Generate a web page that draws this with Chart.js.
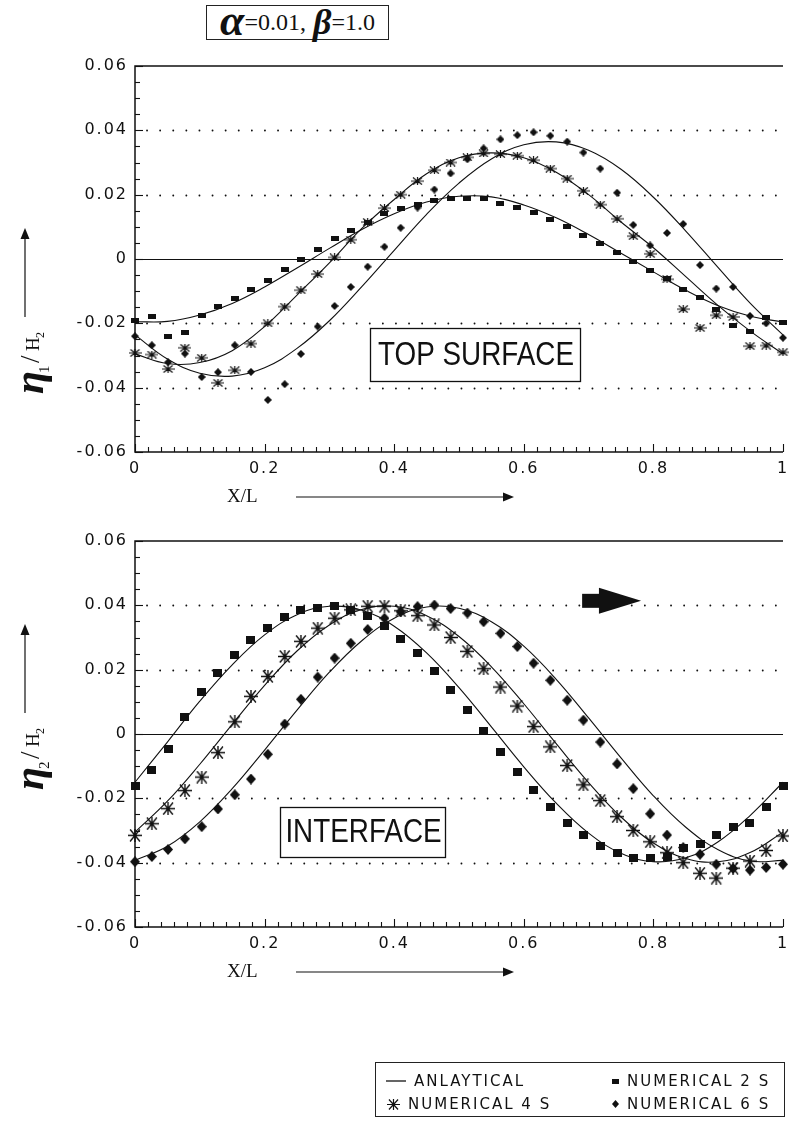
<!DOCTYPE html>
<html>
<head>
<meta charset="utf-8">
<script src="https://cdn.jsdelivr.net/npm/chart.js@4.4.0/dist/chart.umd.min.js"></script>
<style>
  body { margin: 0; background: #fff; width: 789px; height: 1128px; overflow: hidden; position: relative; }
  canvas.plot { position: absolute; left: 0; }
  #top { top: 0; }
  #bot { top: 520px; }
  #title { position: absolute; left: 206px; top: 5px; width: 183px; height: 35px; border: 1.5px solid #222;
    box-sizing: border-box; font-family: "Liberation Serif"; font-size: 24px; color: #111;
    display: flex; align-items: center; justify-content: center; white-space: nowrap; }
  #title .a { font-weight: bold; font-style: italic; font-size: 44px; line-height: 30px; margin-top: -4px; }
  #title .b { font-weight: bold; font-style: italic; font-size: 36px; line-height: 30px; margin-top: -2px; margin-left: 7px; }
  #legend { position: absolute; left: 375px; top: 1062px; width: 410px; height: 55px; border: 1.5px solid #222;
    box-sizing: border-box; font: 15px "DejaVu Sans"; letter-spacing: 2px; color: #111; }
  #legend .it { position: absolute; display: flex; align-items: center; white-space: nowrap; }
  #legend .it canvas { margin-right: 8px; }
</style>
</head>
<body>
<div id="title"><span class="a">α</span>=0.01,<span class="b">β</span>=1.0</div>
<canvas id="top" class="plot" width="789" height="520"></canvas>
<canvas id="bot" class="plot" width="789" height="500"></canvas>
<div id="legend"></div>
<script>
// grid of the numerical solution (40 stations along X/L)
var xNum = [0, 0.026, 0.051, 0.077, 0.103, 0.128, 0.154, 0.179, 0.205, 0.231,
            0.256, 0.282, 0.308, 0.333, 0.359, 0.385, 0.41, 0.436, 0.462, 0.487,
            0.513, 0.538, 0.564, 0.59, 0.615, 0.641, 0.667, 0.692, 0.718, 0.744,
            0.769, 0.795, 0.821, 0.846, 0.872, 0.897, 0.923, 0.949, 0.974, 1];
// stations where the analytical curves were read
var xLine = [0, 0.05, 0.1, 0.15, 0.2, 0.25, 0.3, 0.35, 0.4, 0.45, 0.5,
             0.55, 0.6, 0.65, 0.7, 0.75, 0.8, 0.85, 0.9, 0.95, 1];

var xTicks = [0, 0.2, 0.4, 0.6, 0.8, 1];
var yTicks = [-0.06, -0.04, -0.02, 0, 0.02, 0.04, 0.06];
var dotLevels = [-0.04, -0.02, 0.02, 0.04];

// TOP SURFACE  eta1/H2
var topAn2 = [-0.0195, -0.0194, -0.0174, -0.0138, -0.0087, -0.0028, 0.0033, 0.0092, 0.0141, 0.0177, 0.0195,
              0.0193, 0.0168, 0.0128, 0.0076, 0.0018, -0.0040, -0.0097, -0.0145, -0.0178, -0.0196];
var topAn4 = [-0.0295, -0.0325, -0.0322, -0.0285, -0.021, -0.0112, -0.0012, 0.0095, 0.0185, 0.0265, 0.0315,
              0.033, 0.0315, 0.027, 0.020, 0.0115, 0.0035, -0.0055, -0.0145, -0.0225, -0.0295];
var topAn6 = [-0.0236, -0.0311, -0.0355, -0.0364, -0.0338, -0.0278, -0.0192, -0.0086, 0.0027, 0.0139, 0.0236,
              0.0311, 0.0355, 0.0364, 0.0338, 0.0279, 0.0192, 0.0087, -0.0027, -0.0139, -0.0236];
var topNum2 = [-0.019, -0.018, -0.024, -0.0227, -0.0177, -0.0148, -0.0123, -0.0094, -0.0066, -0.0033,
               0, 0.0029, 0.0063, 0.0088, 0.0115, 0.0141, 0.0156, 0.0169, 0.0182, 0.0188,
               0.0188, 0.0188, 0.0174, 0.0161, 0.0144, 0.0122, 0.0101, 0.0073, 0.0049, 0.0021,
               -0.0008, -0.0036, -0.0062, -0.0094, -0.012, -0.0156, -0.0206, -0.0224, -0.0182, -0.0198];
var topNum4 = [-0.0292, -0.0297, -0.0342, -0.0276, -0.0307, -0.0385, -0.0346, -0.0263, -0.020, -0.0148,
               -0.0097, -0.0047, 0.0005, 0.006, 0.0115, 0.0158, 0.020, 0.0242, 0.0276, 0.030,
               0.0316, 0.0328, 0.0326, 0.0321, 0.0307, 0.0281, 0.025, 0.0212, 0.0169, 0.0125,
               0.0071, 0.0016, -0.0063, -0.0156, -0.0214, -0.0175, -0.018, -0.0271, -0.0269, -0.029];
var topNum6 = [-0.024, -0.0268, -0.0321, -0.0294, -0.0367, -0.0352, -0.0268, -0.0351, -0.0438, -0.0389,
               -0.0295, -0.021, -0.0146, -0.0087, -0.0024, 0.0038, 0.0097, 0.016, 0.0216, 0.0266,
               0.031, 0.0344, 0.0372, 0.0385, 0.0394, 0.0383, 0.0365, 0.0331, 0.0281, 0.0206,
               0.0106, 0.0042, 0.0081, 0.0109, -0.0019, -0.0092, -0.0087, -0.0177, -0.020, -0.0245];

// INTERFACE  eta2/H2
var botAn2 = [-0.0150, -0.0025, 0.0102, 0.0215, 0.0308, 0.0371, 0.0397, 0.0385, 0.0335, 0.0252, 0.0144,
              0.0022, -0.0102, -0.0215, -0.0308, -0.0371, -0.0397, -0.0385, -0.0335, -0.0252, -0.0150];
var botAn4 = [-0.0305, -0.0209, -0.0094, 0.0030, 0.0151, 0.0258, 0.0339, 0.0387, 0.0397, 0.0368, 0.0303,
              0.0209, 0.0094, -0.0030, -0.0151, -0.0258, -0.0339, -0.0387, -0.0397, -0.0368, -0.0305];
var botAn6 = [-0.0393, -0.0349, -0.0273, -0.0170, -0.0050, 0.0074, 0.0192, 0.0290, 0.0360, 0.0395, 0.0391,
              0.0349, 0.0273, 0.0170, 0.0050, -0.0074, -0.0192, -0.0290, -0.0360, -0.0395, -0.0393];
var botNum2 = [-0.0161, -0.0111, -0.0047, 0.0054, 0.0131, 0.019, 0.0246, 0.0293, 0.033, 0.0363,
               0.0385, 0.0393, 0.0397, 0.0386, 0.0366, 0.0337, 0.0296, 0.0251, 0.0196, 0.0136,
               0.0074, 0.0009, -0.0056, -0.0117, -0.0175, -0.0228, -0.0276, -0.0315, -0.0348, -0.0371,
               -0.0384, -0.0387, -0.0381, -0.0353, -0.0343, -0.0315, -0.029, -0.0276, -0.0227, -0.0161];
var botNum4 = [-0.0315, -0.0279, -0.0232, -0.0176, -0.0134, -0.0058, 0.0038, 0.0117, 0.0179, 0.0241,
               0.0288, 0.0329, 0.036, 0.0386, 0.0397, 0.0397, 0.0383, 0.0368, 0.0339, 0.030,
               0.0257, 0.0203, 0.0146, 0.0087, 0.0023, -0.004, -0.0098, -0.0158, -0.0207, -0.0257,
               -0.030, -0.0335, -0.0369, -0.040, -0.0433, -0.0448, -0.0417, -0.0395, -0.0362, -0.0317];
var botNum6 = [-0.0397, -0.0381, -0.0359, -0.0326, -0.0288, -0.0233, -0.0189, -0.014, -0.0063, 0.0031,
               0.0108, 0.0177, 0.0236, 0.0282, 0.0325, 0.036, 0.038, 0.0396, 0.0401, 0.039,
               0.0376, 0.0349, 0.0313, 0.0272, 0.022, 0.0167, 0.0105, 0.0043, -0.0025, -0.0093,
               -0.017, -0.0248, -0.0314, -0.0353, -0.0374, -0.0405, -0.0418, -0.0423, -0.0415, -0.0405];

var INK = '#111';

// marker sprites used as point styles
function sprite(kind, w, h, lw) {
    var c = document.createElement('canvas');
    c.width = w; c.height = h;
    var g = c.getContext('2d');
    g.fillStyle = INK; g.strokeStyle = INK;
    if (kind === 'sq') {
        g.fillRect(0, 0, w, h);
    } else if (kind === 'dia') {
        g.beginPath();
        g.moveTo(w / 2, 0); g.lineTo(w, h / 2); g.lineTo(w / 2, h); g.lineTo(0, h / 2);
        g.closePath(); g.fill();
    } else if (kind === 'ast') {
        g.lineWidth = lw || 1.2;
        g.beginPath();
        g.moveTo(0, h / 2); g.lineTo(w, h / 2);
        g.moveTo(w * 0.15, 0.5); g.lineTo(w * 0.85, h - 0.5);
        g.moveTo(w * 0.85, 0.5); g.lineTo(w * 0.15, h - 0.5);
        g.moveTo(w / 2, 0); g.lineTo(w / 2, h);
        g.stroke();
    } else if (kind === 'line') {
        g.lineWidth = 1.3;
        g.beginPath(); g.moveTo(0, h / 2); g.lineTo(w, h / 2); g.stroke();
    }
    return c;
}

function pts(xs, ys) {
    return xs.map(function (x, i) { return { x: x, y: ys[i] }; });
}
function curve(ys) {
    return { data: pts(xLine, ys), showLine: true, borderColor: INK, borderWidth: 1.1,
             pointRadius: 0, tension: 0.4, fill: false, clip: false };
}
function marks(ys, style) {
    return { data: pts(xNum, ys), showLine: false, pointStyle: style, pointRadius: 5,
             backgroundColor: INK, borderColor: INK, clip: false };
}

function hline(ctx, x0, x1, y) {
    ctx.beginPath(); ctx.moveTo(x0, y); ctx.lineTo(x1, y); ctx.stroke();
}

function arrowUp(ctx, x, y0, y1) {
    ctx.lineWidth = 1.2;
    ctx.beginPath(); ctx.moveTo(x, y0); ctx.lineTo(x, y1 + 8); ctx.stroke();
    ctx.beginPath(); ctx.moveTo(x, y1); ctx.lineTo(x - 4.5, y1 + 11); ctx.lineTo(x + 4.5, y1 + 11);
    ctx.closePath(); ctx.fill();
}
function arrowRight(ctx, x0, x1, y) {
    ctx.lineWidth = 1.2;
    ctx.beginPath(); ctx.moveTo(x0, y); ctx.lineTo(x1 - 8, y); ctx.stroke();
    ctx.beginPath(); ctx.moveTo(x1, y); ctx.lineTo(x1 - 11, y - 4.5); ctx.lineTo(x1 - 11, y + 4.5);
    ctx.closePath(); ctx.fill();
}

var decor = {
    id: 'decor',
    beforeDraw: function (chart) {
        // the plotter font of the original is wide: open up the tick labels
        chart.ctx.letterSpacing = '2px';
    },
    beforeDatasetsDraw: function (chart, args, o) {
        var ctx = chart.ctx, ca = chart.chartArea, y = chart.scales.y;
        ctx.letterSpacing = '0px';
        ctx.save();
        ctx.strokeStyle = INK;
        ctx.lineWidth = 1.8; ctx.lineCap = 'round';
        ctx.setLineDash([0.1, 13]);
        dotLevels.forEach(function (v) {
            var py = Math.round(y.getPixelForValue(v)) + 0.5;
            hline(ctx, ca.left + 12, ca.right, py);
        });
        ctx.setLineDash([]); ctx.lineCap = 'butt'; ctx.lineWidth = 1.2;
        hline(ctx, ca.left, ca.right, Math.round(y.getPixelForValue(0)) + 0.5);
        ctx.restore();
    },
    afterDraw: function (chart, args, o) {
        var ctx = chart.ctx, ca = chart.chartArea, x = chart.scales.x, y = chart.scales.y;
        var k, py, px;
        ctx.save();
        ctx.letterSpacing = '0px';
        ctx.strokeStyle = INK; ctx.fillStyle = INK;
        // frame: top, left and bottom
        ctx.lineWidth = 1.5;
        ctx.beginPath();
        ctx.moveTo(ca.right, ca.top); ctx.lineTo(ca.left, ca.top);
        ctx.lineTo(ca.left, ca.bottom); ctx.lineTo(ca.right, ca.bottom);
        ctx.stroke();
        // inward ticks
        ctx.lineWidth = 1.1;
        for (k = -12; k <= 12; k++) {
            py = Math.round(y.getPixelForValue(k * 0.005)) + 0.5;
            hline(ctx, ca.left, ca.left + (k % 4 === 0 ? 8 : 5), py);
        }
        for (k = 0; k <= 50; k++) {
            px = Math.round(x.getPixelForValue(k * 0.02)) + 0.5;
            ctx.beginPath(); ctx.moveTo(px, ca.bottom); ctx.lineTo(px, ca.bottom - (k % 10 === 0 ? 8 : 5)); ctx.stroke();
        }
        // boxed label
        if (o.box) {
            var b = o.box;
            ctx.fillStyle = '#fff';
            ctx.fillRect(b.x, b.y, b.w, b.h);
            ctx.fillStyle = INK;
            ctx.lineWidth = 1.3;
            ctx.strokeRect(b.x + 0.5, b.y + 0.5, b.w, b.h);
            ctx.save();
            ctx.translate(b.x + b.w / 2 + 1, b.y + b.h / 2 + 1);
            ctx.scale(0.87, 1.05);
            ctx.font = b.font;
            ctx.textBaseline = 'middle'; ctx.textAlign = 'center';
            ctx.fillText(b.text, 0, 0);
            ctx.restore();
        }
        // propagation arrow
        if (o.arrow) {
            var a = o.arrow;
            var x0 = x.getPixelForValue(a.x0), x1 = x.getPixelForValue(a.x1), xm = x.getPixelForValue(a.xm);
            var yc = y.getPixelForValue(a.y);
            ctx.fillRect(x0, yc - 7, xm - x0 + 2, 14);
            ctx.beginPath(); ctx.moveTo(xm, yc - 13); ctx.lineTo(x1, yc); ctx.lineTo(xm, yc + 13);
            ctx.closePath(); ctx.fill();
        }
        // X/L title with arrow
        var ty = ca.bottom + 45;
        ctx.font = '19px "Liberation Serif"';
        ctx.textAlign = 'left'; ctx.textBaseline = 'middle';
        ctx.fillText('X/L', 227, ty);
        arrowRight(ctx, 296, 514, ty);
        // eta/H2 title, rotated, with arrow above
        ctx.save();
        ctx.translate(43, o.etaBottom);
        ctx.rotate(-Math.PI / 2);
        ctx.textBaseline = 'alphabetic'; ctx.textAlign = 'left';
        ctx.font = 'bold italic 42px "Liberation Serif"';
        ctx.fillText('η', 0, 0);
        var w = ctx.measureText('η').width;
        ctx.font = '15px "Liberation Serif"';
        ctx.fillText(o.sub, w - 2, 6);
        ctx.font = '27px "Liberation Serif"';
        ctx.fillText('/', w + 8, -4);
        ctx.font = '19px "Liberation Serif"';
        ctx.fillText('H', w + 20, -4);
        ctx.font = '12px "Liberation Serif"';
        ctx.fillText('2', w + 33, 1);
        ctx.restore();
        arrowUp(ctx, 25, o.etaBottom - 77, o.etaBottom - 166);
        ctx.restore();
    }
};

function makePlot(id, h, top, bottom, sets, decorOpts) {
    return new Chart(document.getElementById(id), {
        type: 'scatter',
        data: { datasets: sets },
        options: {
            responsive: false,
            animation: false,
            events: [],
            layout: { padding: { top: top, right: 0, left: 0, bottom: 0 } },
            plugins: { legend: { display: false }, tooltip: { enabled: false }, decor: decorOpts },
            scales: {
                x: {
                    type: 'linear', min: 0, max: 1,
                    afterBuildTicks: function (s) { s.ticks = xTicks.map(function (v) { return { value: v }; }); },
                    afterFit: function (s) { s.height = h - bottom; s.paddingLeft = 0; s.paddingRight = 0; },
                    grid: { display: false, drawTicks: false },
                    border: { display: false },
                    ticks: {
                        padding: 7, color: INK, maxRotation: 0, autoSkip: false,
                        font: { family: 'DejaVu Sans', size: 16 },
                        callback: function (v) { return v === 0 ? '0' : v === 1 ? '1' : v.toFixed(1); }
                    }
                },
                y: {
                    type: 'linear', min: -0.06, max: 0.06,
                    afterBuildTicks: function (s) { s.ticks = yTicks.map(function (v) { return { value: v }; }); },
                    afterFit: function (s) { s.width = 135; s.paddingTop = 0; s.paddingBottom = 0; },
                    grid: { display: false, drawTicks: false },
                    border: { display: false },
                    ticks: {
                        padding: 7, color: INK, autoSkip: false,
                        font: { family: 'DejaVu Sans', size: 16 },
                        callback: function (v) { return Math.abs(v) < 1e-9 ? '0' : v.toFixed(2); }
                    }
                }
            }
        },
        plugins: [decor]
    });
}

var sqTop = sprite('sq', 8, 5), astTop = sprite('ast', 13, 8), diaTop = sprite('dia', 8, 8);
var sqBot = sprite('sq', 9, 8), astBot = sprite('ast', 14, 13, 1.4), diaBot = sprite('dia', 10, 11);

makePlot('top', 520, 66, 452, [
    curve(topAn2), curve(topAn4), curve(topAn6),
    marks(topNum2, sqTop), marks(topNum4, astTop), marks(topNum6, diaTop)
], {
    sub: '1', etaBottom: 394,
    box: { text: 'TOP SURFACE', x: 370, y: 328, w: 210, h: 53, font: '32px "Liberation Sans"' }
});

makePlot('bot', 500, 21, 407, [
    curve(botAn2), curve(botAn4), curve(botAn6),
    marks(botNum2, sqBot), marks(botNum4, astBot), marks(botNum6, diaBot)
], {
    sub: '2', etaBottom: 270,
    box: { text: 'INTERFACE', x: 280, y: 287, w: 165, h: 50, font: '32px "Liberation Sans"' },
    arrow: { x0: 0.69, xm: 0.716, x1: 0.781, y: 0.0414 }
});

// legend shared by both panels
var legendItems = [
    { label: 'ANLAYTICAL', mark: sprite('line', 20, 4), left: 10, top: 9 },
    { label: 'NUMERICAL 4 S', mark: sprite('ast', 13, 11), left: 11, top: 32 },
    { label: 'NUMERICAL 2 S', mark: sprite('sq', 7, 5), left: 236, top: 9 },
    { label: 'NUMERICAL 6 S', mark: sprite('dia', 7, 8), left: 236, top: 32 }
];
var lg = document.getElementById('legend');
legendItems.forEach(function (it) {
    var d = document.createElement('div');
    d.className = 'it';
    d.style.left = it.left + 'px';
    d.style.top = it.top + 'px';
    d.appendChild(it.mark);
    var s = document.createElement('span');
    s.textContent = it.label;
    d.appendChild(s);
    lg.appendChild(d);
});
</script>
</body>
</html>
